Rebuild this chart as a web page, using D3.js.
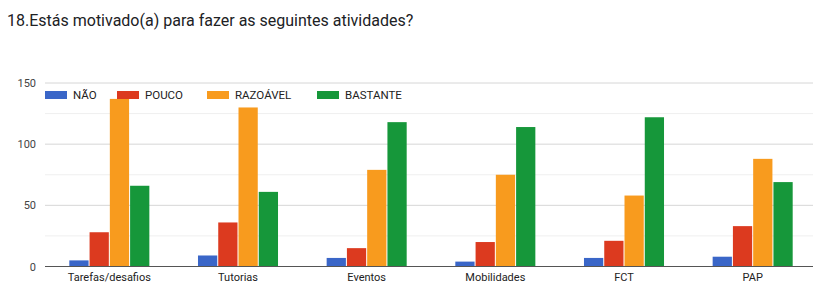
<!DOCTYPE html>
<html><head><meta charset="utf-8">
<script src="https://cdn.jsdelivr.net/npm/d3@7"></script>
<style>body{margin:0;background:#fff}svg{display:block}</style>
</head><body><svg id="c" width="813" height="284"></svg>
<script>
const categories = ["Tarefas/desafios","Tutorias","Eventos","Mobilidades","FCT","PAP"];
const seriesNames = ["NÃO","POUCO","RAZOÁVEL","BASTANTE"];
const nao = [5, 9, 7, 4, 7, 8];
const pouco = [28, 36, 15, 20, 21, 33];
const razoavel = [137, 130, 79, 75, 58, 88];
const bastante = [66, 61, 118, 114, 122, 69];
const yTicks = [0, 50, 100, 150];
const yMinor = [25, 75, 125];
const colors = ["#3a66c8","#dc3a1f","#f89b1e","#16973a"];

const series = [nao, pouco, razoavel, bastante];
const svg = d3.select("#c");
const font = "Roboto, 'Liberation Sans', Arial, sans-serif";

svg.append("text").attr("x", 7).attr("y", 26).attr("font-family", font)
  .attr("font-size", 16).attr("fill", "#202124")
  .text("18.Estás motivado(a) para fazer as seguintes atividades?");

const x0 = d3.scaleBand().domain(categories).range([45, 817]).paddingInner(0.378).paddingOuter(0.189);
const x1 = d3.scaleBand().domain(seriesNames).range([0, x0.bandwidth()]).paddingInner(0.05);
const y = d3.scaleLinear().domain([0, 150]).range([266.5, 83]);

const grid = svg.append("g");
grid.selectAll("line.minor").data(yMinor).join("line")
  .attr("x1", 45).attr("x2", 813).attr("y1", d => y(d)).attr("y2", d => y(d))
  .attr("stroke", "#efefef").attr("stroke-width", 1);
grid.selectAll("line.major").data(yTicks.filter(d => d > 0)).join("line")
  .attr("x1", 45).attr("x2", 813).attr("y1", d => y(d)).attr("y2", d => y(d))
  .attr("stroke", "#d6d6d6").attr("stroke-width", 1);

const yAxis = d3.axisLeft(y).tickValues(yTicks).tickSize(0).tickPadding(0);
const ya = svg.append("g").attr("transform", "translate(36,0)").call(yAxis);
ya.select(".domain").remove();
ya.selectAll("text").attr("font-family", font).attr("font-size", 11).attr("fill", "#444");

const groups = svg.append("g").selectAll("g").data(categories).join("g")
  .attr("transform", c => `translate(${x0(c)},0)`);
groups.selectAll("rect").data((c, i) => series.map((s, k) => ({k, v: s[i]}))).join("rect")
  .attr("x", d => x1(seriesNames[d.k])).attr("width", x1.bandwidth())
  .attr("y", d => y(d.v)).attr("height", d => y(0) - y(d.v))
  .attr("fill", d => colors[d.k]);

svg.append("line").attr("x1", 45).attr("x2", 813).attr("y1", y(0)).attr("y2", y(0))
  .attr("stroke", "#555").attr("stroke-width", 1);

const xAxis = d3.axisBottom(x0).tickSize(0).tickPadding(7);
const xa = svg.append("g").attr("transform", `translate(0,${y(0)})`).call(xAxis);
xa.select(".domain").remove();
xa.selectAll("text").attr("font-family", font).attr("font-size", 11).attr("fill", "#222");

const legX = [45, 117, 207, 317];
const leg = svg.append("g").selectAll("g").data(seriesNames).join("g")
  .attr("transform", (d, i) => `translate(${legX[i]},90)`);
leg.append("rect").attr("width", 22).attr("height", 8).attr("y", 1).attr("fill", (d, i) => colors[i]);
leg.append("text").attr("x", 28).attr("y", 9).attr("font-family", font).attr("font-size", 11.5)
  .attr("fill", "#222").text(d => d);
</script></body></html>
